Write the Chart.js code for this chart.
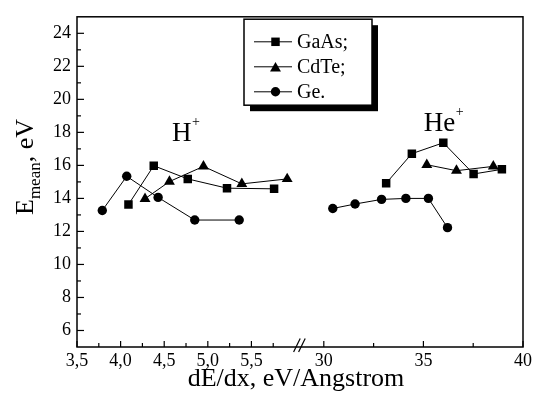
<!DOCTYPE html>
<html>
<head>
<meta charset="utf-8">
<script src="https://cdn.jsdelivr.net/npm/chart.js@4.4.1/dist/chart.umd.min.js"></script>
<style>
  body { margin: 0; background: #fff; }
  canvas { display: block; }
</style>
</head>
<body>
<canvas id="chart" width="535" height="394"></canvas>
<script>
// values (H+ group on the left, He+ group right of the axis break)
const gaasHx = [4.09, 4.38, 4.77, 5.22, 5.76];
const gaasHy = [13.63, 15.98, 15.18, 14.62, 14.58];
const gaasHeX = [33.13, 34.42, 36.0, 37.52, 38.94];
const gaasHeY = [14.92, 16.71, 17.37, 15.48, 15.76];

const cdteHx = [4.28, 4.56, 4.95, 5.39, 5.91];
const cdteHy = [13.98, 15.02, 15.94, 14.88, 15.18];
const cdteHeX = [35.17, 36.66, 38.51];
const cdteHeY = [16.04, 15.68, 15.94];

const geHx = [3.79, 4.07, 4.43, 4.85, 5.36];
const geHy = [13.27, 15.34, 14.06, 12.69, 12.69];
const geHeX = [30.45, 31.57, 32.90, 34.12, 35.25, 36.21];
const geHeY = [13.39, 13.66, 13.94, 14.0, 14.0, 12.23];

const seriesNames = ['GaAs;', 'CdTe;', 'Ge.'];

const xTickValues = [3.5, 3.75, 4.0, 4.25, 4.5, 4.75, 5.0, 5.25, 5.5, 5.75, 30, 32.5, 35, 37.5, 40];
const xTickLabels = ['3,5', '', '4,0', '', '4,5', '', '5,0', '', '5,5', '', '30', '', '35', '', '40'];
const yTickLabels = ['6', '8', '10', '12', '14', '16', '18', '20', '22', '24'];

const FONT = '"Liberation Serif", serif';

// broken x axis: 3.5..6 at full scale, 30..40 compressed after the break
const RIGHT_START = 2.83;   // where 30 sits, in left-axis units from 3.5
const RIGHT_SCALE = 0.2284; // left-axis units per unit on the right part
const BREAK_AT = 6.05;

function toVirtual(v) {
    return v < 15 ? v - 3.5 : RIGHT_START + (v - 30) * RIGHT_SCALE;
}
function fromVirtual(t) {
    return t < 2.7 ? t + 3.5 : 30 + (t - RIGHT_START) / RIGHT_SCALE;
}

class BrokenScale extends Chart.LinearScale {
    buildTicks() {
        return xTickValues.map(value => ({ value }));
    }
    getPixelForValue(value) {
        return this.getPixelForDecimal(toVirtual(value) / toVirtual(this.max));
    }
    getValueForPixel(pixel) {
        return fromVirtual(this.getDecimalForPixel(pixel) * toVirtual(this.max));
    }
}
BrokenScale.id = 'broken';
BrokenScale.defaults = {};
Chart.register(BrokenScale);

function pts(xs, ys) {
    return xs.map((x, i) => ({ x: x, y: ys[i] }));
}
// null point in the gap so the H+ and He+ lines are not joined
function joined(ax, ay, bx, by) {
    return [...pts(ax, ay), { x: 20, y: null }, ...pts(bx, by)];
}

function series(label, data, style, radius) {
    return {
        label: label,
        data: data,
        showLine: true,
        borderColor: '#000',
        borderWidth: 1,
        pointStyle: style,
        pointRadius: radius,
        pointBackgroundColor: '#000',
        pointBorderColor: '#000',
        pointBorderWidth: 0,
        spanGaps: false
    };
}

function line(ctx, x1, y1, x2, y2) {
    ctx.beginPath();
    ctx.moveTo(x1, y1);
    ctx.lineTo(x2, y2);
    ctx.stroke();
}

const overlay = {
    id: 'overlay',
    afterDraw(chart) {
        const { ctx, chartArea: a, scales: { x, y } } = chart;
        ctx.save();
        ctx.strokeStyle = '#000';
        ctx.fillStyle = '#000';

        // frame
        ctx.lineWidth = 1.5;
        ctx.strokeRect(a.left, a.top, a.right - a.left, a.bottom - a.top);

        // inward tick marks
        ctx.lineWidth = 1.2;
        x.ticks.forEach(t => {
            const px = x.getPixelForValue(t.value);
            line(ctx, px, a.bottom, px, a.bottom - (t.label ? 6 : 4));
        });
        y.ticks.forEach(t => {
            if (t.value <= 5 || t.value >= 25) return;
            const py = y.getPixelForValue(t.value);
            line(ctx, a.left, py, a.left + (t.label ? 7 : 4), py);
        });

        // axis break marks
        const bx = x.getPixelForValue(BREAK_AT);
        [-2.5, 2.5].forEach(d => line(ctx, bx + d - 3.3, a.bottom + 5, bx + d + 3.3, a.bottom - 8.5));

        // x title
        ctx.font = '26px ' + FONT;
        ctx.textAlign = 'center';
        ctx.textBaseline = 'alphabetic';
        ctx.fillText('dE/dx, eV/Angstrom', (a.left + a.right) / 2 - 4, 386);

        // y title with subscript
        ctx.save();
        ctx.textAlign = 'left';
        const big = '26px ' + FONT, small = '17px ' + FONT;
        ctx.font = big;
        const wE = ctx.measureText('E').width;
        const wTail = ctx.measureText(', eV').width;
        ctx.font = small;
        const wSub = ctx.measureText('mean').width;
        const total = wE + wSub + wTail;
        ctx.translate(33, 167 + total / 2);
        ctx.rotate(-Math.PI / 2);
        ctx.font = big;
        ctx.fillText('E', 0, 0);
        ctx.font = small;
        ctx.fillText('mean', wE, 7);
        ctx.font = big;
        ctx.fillText(', eV', wE + wSub, 0);
        ctx.restore();

        // ion labels
        const ion = (txt, xv, yv) => {
            const px = x.getPixelForValue(xv), py = y.getPixelForValue(yv);
            ctx.textAlign = 'left';
            ctx.font = '27px ' + FONT;
            ctx.fillText(txt, px, py);
            const w = ctx.measureText(txt).width;
            ctx.font = '14px ' + FONT;
            ctx.fillText('+', px + w + 0.5, py - 15);
        };
        ion('H', 4.59, 17.45);
        ion('He', 35.02, 18.06);

        // legend box with drop shadow
        const lx = a.left + 167, ly = a.top + 2.4, lw = 128, lh = 86;
        ctx.fillRect(lx + 6, ly + 6, lw, lh);
        ctx.fillStyle = '#fff';
        ctx.fillRect(lx, ly, lw, lh);
        ctx.fillStyle = '#000';
        ctx.lineWidth = 1.5;
        ctx.strokeRect(lx, ly, lw, lh);
        ctx.font = '20px ' + FONT;
        ctx.textBaseline = 'middle';
        chart.data.datasets.forEach((ds, i) => {
            const ry = ly + 22.6 + i * 25;
            ctx.lineWidth = 1;
            line(ctx, lx + 10, ry, lx + 48, ry);
            Chart.helpers.drawPoint(ctx, {
                pointStyle: ds.pointStyle, radius: ds.pointRadius, rotation: 0, borderWidth: 0
            }, lx + 31.5, ry + (ds.pointStyle === 'triangle' ? 1.5 : 0));
            ctx.fillText(ds.label, lx + 53, ry + 1);
        });
        ctx.restore();
    }
};

new Chart(document.getElementById('chart'), {
    type: 'scatter',
    data: {
        datasets: [
            series(seriesNames[0], joined(gaasHx, gaasHy, gaasHeX, gaasHeY), 'rect', 6),
            series(seriesNames[1], joined(cdteHx, cdteHy, cdteHeX, cdteHeY), 'triangle', 6.3),
            series(seriesNames[2], joined(geHx, geHy, geHeX, geHeY), 'circle', 4.7)
        ]
    },
    options: {
        responsive: false,
        animation: false,
        devicePixelRatio: 1,
        layout: { padding: { top: 13, right: 8, left: 0, bottom: 0 } },
        plugins: { legend: { display: false }, tooltip: { enabled: false } },
        scales: {
            x: {
                type: 'broken',
                min: 3.5,
                max: 40,
                grid: { display: false, drawTicks: false },
                border: { display: false },
                ticks: {
                    autoSkip: false,
                    maxRotation: 0,
                    padding: 3,
                    color: '#000',
                    font: { family: FONT, size: 18 },
                    callback: (v, i) => xTickLabels[i]
                },
                afterFit: s => { s.height = 47; }
            },
            y: {
                min: 5,
                max: 25,
                grid: { display: false, drawTicks: false },
                border: { display: false },
                ticks: {
                    stepSize: 1,
                    autoSkip: false,
                    padding: 6,
                    color: '#000',
                    font: { family: FONT, size: 18 },
                    callback: v => yTickLabels.includes(String(v)) ? String(v) : ''
                },
                afterFit: s => { s.width = 77; }
            }
        }
    },
    plugins: [overlay]
});
</script>
</body>
</html>
